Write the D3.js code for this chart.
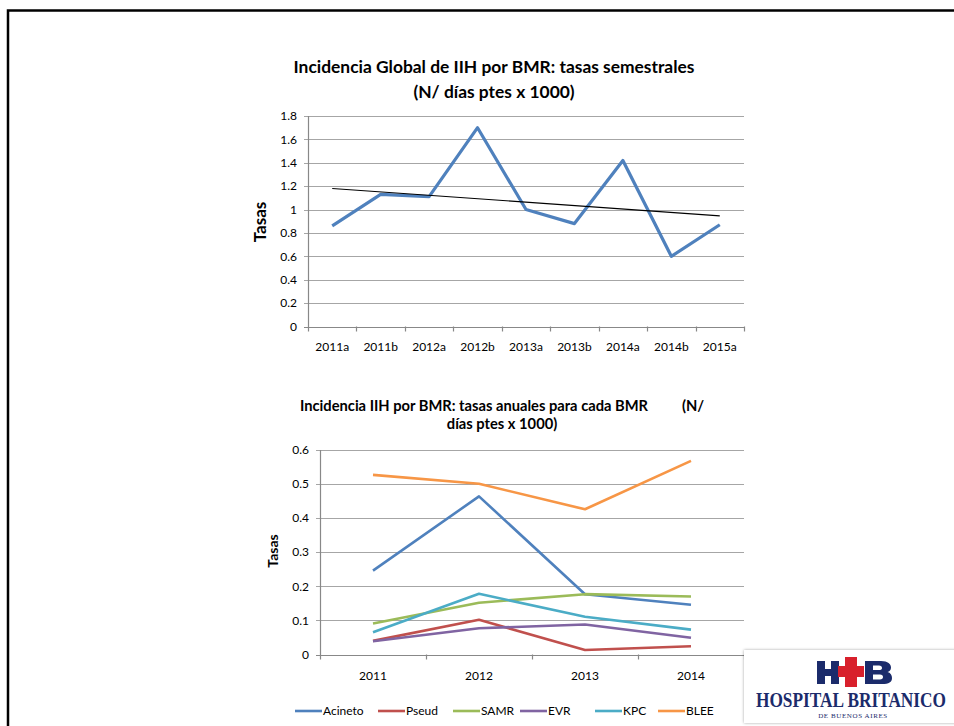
<!DOCTYPE html>
<html>
<head>
<meta charset="utf-8">
<script src="https://cdn.jsdelivr.net/npm/d3@7"></script>
<style>
  html, body { margin: 0; padding: 0; background: #fff; }
  svg text { font-family: Lato, "Open Sans", sans-serif; fill: #000; }
</style>
</head>
<body>
<div id="chart"></div>
<script>
// semestral global rates
const periods = ['2011a', '2011b', '2012a', '2012b', '2013a', '2013b', '2014a', '2014b', '2015a'];
const globalRates = [0.86, 1.13, 1.11, 1.70, 1.00, 0.88, 1.42, 0.60, 0.87];
const topTicks = [0, 0.2, 0.4, 0.6, 0.8, 1, 1.2, 1.4, 1.6, 1.8];

// annual rates per BMR
const years = ['2011', '2012', '2013', '2014'];
const seriesNames = ['Acineto', 'Pseud', 'SAMR', 'EVR', 'KPC', 'BLEE'];
const acineto = [0.246, 0.464, 0.177, 0.146];
const pseud = [0.040, 0.102, 0.013, 0.024];
const samr = [0.091, 0.152, 0.177, 0.170];
const evr = [0.039, 0.077, 0.088, 0.049];
const kpc = [0.065, 0.178, 0.111, 0.073];
const blee = [0.527, 0.501, 0.426, 0.568];
const bottomTicks = [0, 0.1, 0.2, 0.3, 0.4, 0.5, 0.6];

const colors = ['#4f81bd', '#c0504d', '#9bbb59', '#8064a2', '#4bacc6', '#f79646'];
const series = seriesNames.map((name, i) => ({
  name, color: colors[i], values: [acineto, pseud, samr, evr, kpc, blee][i]
}));

const width = 954, height = 726;
const svg = d3.select('#chart').append('svg')
  .attr('width', width)
  .attr('height', height);

// slide frame
svg.append('path')
  .attr('d', `M8,726 V10.5 H954`)
  .attr('fill', 'none')
  .attr('stroke', '#000')
  .attr('stroke-width', 2.5);

function fmt(d) { return String(+d.toFixed(1)); }

function drawFrame(g, x, y, ticks, tickSize) {
  const [x0, x1] = x.range();
  g.append('g').selectAll('line.grid')
    .data(ticks)
    .join('line')
    .attr('x1', x0 - 4).attr('x2', x1)
    .attr('y1', d => Math.round(y(d)) + 0.5).attr('y2', d => Math.round(y(d)) + 0.5)
    .attr('stroke', d => d === 0 ? '#888' : '#a6a6a6')
    .attr('stroke-width', 1.2);

  g.append('line')
    .attr('x1', x0 + 0.5).attr('x2', x0 + 0.5)
    .attr('y1', y.range()[1]).attr('y2', y.range()[0] + 5)
    .attr('stroke', '#888').attr('stroke-width', 1.2);

  // category boundary ticks
  const bounds = x.domain().map(d => x(d) + x.bandwidth());
  g.append('g').selectAll('line.xt')
    .data(bounds)
    .join('line')
    .attr('x1', d => Math.round(d) + 0.5).attr('x2', d => Math.round(d) + 0.5)
    .attr('y1', y(0)).attr('y2', y(0) + 5)
    .attr('stroke', '#888').attr('stroke-width', 1.2);

  g.append('g').selectAll('text.yl')
    .data(ticks)
    .join('text')
    .attr('x', x0 - 11)
    .attr('y', d => y(d))
    .attr('dy', '0.35em')
    .attr('text-anchor', 'end')
    .style('font-size', tickSize + 'px')
    .text(fmt);
}

// ---------- top chart ----------
const xTop = d3.scaleBand().domain(periods).range([308, 744]);
const yTop = d3.scaleLinear().domain([0, 1.8]).range([326.5, 116]);
const gTop = svg.append('g');
drawFrame(gTop, xTop, yTop, topTicks, 12);

gTop.append('g').selectAll('text.xl')
  .data(periods)
  .join('text')
  .attr('x', d => xTop(d) + xTop.bandwidth() / 2)
  .attr('y', 351)
  .attr('text-anchor', 'middle')
  .style('font-size', '12px')
  .text(d => d);

gTop.append('path')
  .datum(globalRates)
  .attr('fill', 'none')
  .attr('stroke', '#4f81bd')
  .attr('stroke-width', 3.2)
  .attr('stroke-linejoin', 'round')
  .attr('d', d3.line()
    .x((d, i) => xTop(periods[i]) + xTop.bandwidth() / 2)
    .y(d => yTop(d)));

// linear trend line (least squares over the semesters)
const n = globalRates.length;
const xm = (n - 1) / 2;
const ym = d3.mean(globalRates);
const slope = d3.sum(globalRates, (v, i) => (i - xm) * (v - ym)) /
  d3.sum(globalRates, (v, i) => (i - xm) * (i - xm));
const trend = [0, n - 1].map(i => ({ i, v: ym + slope * (i - xm) }));
gTop.append('path')
  .datum(trend)
  .attr('fill', 'none')
  .attr('stroke', '#000')
  .attr('stroke-width', 1.2)
  .attr('d', d3.line()
    .x(d => xTop(periods[d.i]) + xTop.bandwidth() / 2)
    .y(d => yTop(d.v)));

gTop.append('text')
  .attr('x', 494).attr('y', 73)
  .attr('text-anchor', 'middle')
  .style('font-size', '17.4px').style('font-weight', 'bold')
  .text('Incidencia Global de IIH por BMR: tasas semestrales');
gTop.append('text')
  .attr('x', 494).attr('y', 98)
  .attr('text-anchor', 'middle')
  .style('font-size', '17.4px').style('font-weight', 'bold')
  .text('(N/ días ptes x 1000)');
gTop.append('text')
  .attr('transform', 'translate(266,222) rotate(-90)')
  .attr('text-anchor', 'middle')
  .style('font-size', '17px').style('font-weight', 'bold')
  .text('Tasas');

// ---------- bottom chart ----------
const xBot = d3.scaleBand().domain(years).range([320, 744]);
const yBot = d3.scaleLinear().domain([0, 0.6]).range([654.5, 450]);
const gBot = svg.append('g');
drawFrame(gBot, xBot, yBot, bottomTicks, 12);

gBot.append('g').selectAll('text.xl')
  .data(years)
  .join('text')
  .attr('x', d => xBot(d) + xBot.bandwidth() / 2)
  .attr('y', 680)
  .attr('text-anchor', 'middle')
  .style('font-size', '12px')
  .text(d => d);

const lineBot = d3.line()
  .x((d, i) => xBot(years[i]) + xBot.bandwidth() / 2)
  .y(d => yBot(d));
gBot.append('g').selectAll('path')
  .data(series)
  .join('path')
  .attr('fill', 'none')
  .attr('stroke', d => d.color)
  .attr('stroke-width', 2.6)
  .attr('stroke-linejoin', 'round')
  .attr('d', d => lineBot(d.values));

gBot.append('text')
  .attr('x', 300).attr('y', 411)
  .style('font-size', '14.7px').style('font-weight', 'bold')
  .text('Incidencia IIH por BMR: tasas anuales para cada BMR');
gBot.append('text')
  .attr('x', 682).attr('y', 411)
  .style('font-size', '14.7px').style('font-weight', 'bold')
  .text('(N/');
gBot.append('text')
  .attr('x', 502).attr('y', 429)
  .attr('text-anchor', 'middle')
  .style('font-size', '14.7px').style('font-weight', 'bold')
  .text('días ptes x 1000)');
gBot.append('text')
  .attr('transform', 'translate(278,551) rotate(-90)')
  .attr('text-anchor', 'middle')
  .style('font-size', '14px').style('font-weight', 'bold')
  .text('Tasas');

// legend
const legendX = [295, 378, 453, 520, 595, 658];
const legend = svg.append('g').selectAll('g')
  .data(series)
  .join('g')
  .attr('transform', (d, i) => `translate(${legendX[i]},711)`);
legend.append('line')
  .attr('x1', 0).attr('x2', 27)
  .attr('stroke', d => d.color)
  .attr('stroke-width', 2.6);
legend.append('text')
  .attr('x', 28).attr('dy', '0.35em')
  .style('font-size', '12px')
  .text(d => d.name);

// logo
const defs = svg.append('defs');
const shadow = defs.append('filter').attr('id', 'sh')
  .attr('x', '-10%').attr('y', '-10%').attr('width', '130%').attr('height', '130%');
shadow.append('feDropShadow')
  .attr('dx', 0).attr('dy', 0).attr('stdDeviation', 1.5)
  .attr('flood-color', '#000').attr('flood-opacity', 0.35);

const logo = svg.append('g');
logo.append('rect')
  .attr('x', 744).attr('y', 650).attr('width', 214).attr('height', 73)
  .attr('fill', '#fff')
  .attr('filter', 'url(#sh)');
const navy = '#1b2b6b', red = '#d8202c';
// H
logo.append('rect').attr('x', 817).attr('y', 661).attr('width', 8).attr('height', 23).attr('fill', navy);
logo.append('rect').attr('x', 831).attr('y', 661).attr('width', 8).attr('height', 23).attr('fill', navy);
logo.append('rect').attr('x', 817).attr('y', 669).attr('width', 22).attr('height', 7).attr('fill', navy);
// cross
logo.append('rect').attr('x', 845).attr('y', 657).attr('width', 12).attr('height', 30).attr('fill', red);
logo.append('rect').attr('x', 838).attr('y', 666).attr('width', 26).attr('height', 11).attr('fill', red);
// B
logo.append('path')
  .attr('fill', navy)
  .attr('fill-rule', 'evenodd')
  .attr('d', 'M865,661 H881 C888,661 891,664 891,667.5 C891,670 889.5,671.5 887.5,672 ' +
    'C890.5,672.7 892,675 892,678 C892,682 889,684 882,684 H865 Z ' +
    'M873,665.5 H879 C881,665.5 882,666.5 882,668 C882,669.5 881,670 879,670 H873 Z ' +
    'M873,674.5 H880 C882,674.5 883,675.5 883,677 C883,678.5 882,679.5 880,679.5 H873 Z');
logo.append('text')
  .attr('transform', 'translate(851,707) scale(1,1.2)')
  .attr('text-anchor', 'middle')
  .style('font-family', '"Liberation Serif", serif')
  .style('font-size', '17.3px').style('font-weight', 'bold')
  .style('fill', navy)
  .text('HOSPITAL BRITANICO');
logo.append('text')
  .attr('x', 853).attr('y', 718)
  .attr('text-anchor', 'middle')
  .style('font-family', '"Liberation Serif", serif')
  .style('font-size', '7px')
  .style('letter-spacing', '0.6px')
  .style('fill', navy)
  .text('DE BUENOS AIRES');
</script>
</body>
</html>
